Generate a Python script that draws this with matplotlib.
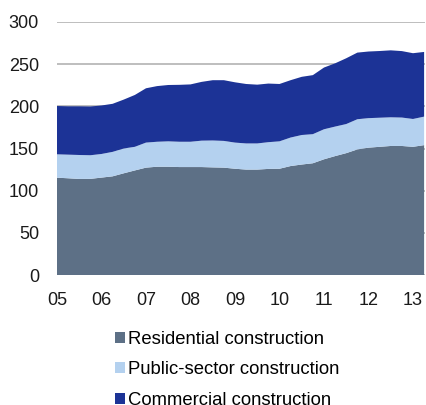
import numpy as np
import matplotlib
matplotlib.use("Agg")
from matplotlib import pyplot as plt
from matplotlib.patches import Patch

plt.rcParams["font.family"] = ["Liberation Sans", "DejaVu Sans"]

# quarterly, 2005Q1 .. 2013Q2
quarters = np.arange(5.0, 13.26, 0.25)

residential = [115.4, 114.7, 113.9, 114.0, 115.5, 117.0, 120.6, 124.0, 127.3, 128.4,
               128.4, 128.0, 128.0, 128.0, 127.6, 127.3, 126.0, 125.0, 125.0, 125.8,
               126.0, 129.2, 131.0, 132.5, 137.2, 141.0, 144.5, 148.9, 151.0, 152.0,
               153.0, 153.0, 152.0, 154.0]
res_plus_public = [143.1, 142.7, 142.3, 142.0, 143.5, 146.0, 150.0, 152.0, 157.0, 158.0,
                   158.5, 158.0, 158.0, 159.3, 159.5, 159.0, 157.0, 156.0, 156.0, 157.5,
                   158.5, 163.0, 166.0, 167.0, 172.8, 176.0, 179.0, 184.7, 186.0, 186.5,
                   187.0, 186.7, 185.0, 187.8]
total = [200.4, 200.0, 200.0, 199.8, 201.0, 203.0, 208.0, 213.5, 221.4, 224.0,
         225.3, 225.5, 226.0, 229.0, 231.0, 231.0, 228.5, 226.5, 225.7, 227.0,
         226.5, 231.0, 235.0, 237.0, 246.0, 251.0, 257.0, 263.7, 265.0, 265.6,
         266.4, 265.5, 263.0, 264.5]

public = np.array(res_plus_public) - np.array(residential)
commercial = np.array(total) - np.array(res_plus_public)

labels = ["Residential construction", "Public-sector construction", "Commercial construction"]
colors = ["#5d7086", "#b4d1ef", "#1c3396"]
year_ticks = list(range(5, 14))
year_labels = [f"{y:02d}" for y in year_ticks]

fig = plt.figure(figsize=(4.26, 4.05), dpi=100)
ax = fig.add_axes([57 / 426, 1 - 275 / 405, 368 / 426, 253 / 405])

ax.stackplot(quarters, residential, public, commercial, colors=colors, linewidth=0, zorder=2)

ax.set_xlim(5.0, 13.27)
ax.set_ylim(0, 300)
ax.set_yticks(range(0, 301, 50))
ax.set_xticks(year_ticks)
ax.set_xticklabels(year_labels)
ax.yaxis.grid(True, color="#b3b3b3", linewidth=1.2, zorder=0)
ax.set_axisbelow(True)
for s in ax.spines.values():
    s.set_visible(False)
ax.tick_params(length=0, labelsize=13, colors="#1a1a1a")
ax.tick_params(axis="y", pad=13)
ax.tick_params(axis="x", pad=12)

handles = [Patch(facecolor=c, edgecolor="none") for c in colors]
fig.legend(handles, labels, loc="upper left", bbox_to_anchor=(115 / 426, 1 - 331 / 405),
           frameon=False, fontsize=13.3, handlelength=0.55, handleheight=0.55,
           handletextpad=0.18, labelspacing=0.72, borderaxespad=0, borderpad=0)

fig.savefig("out.png", dpi=100)
